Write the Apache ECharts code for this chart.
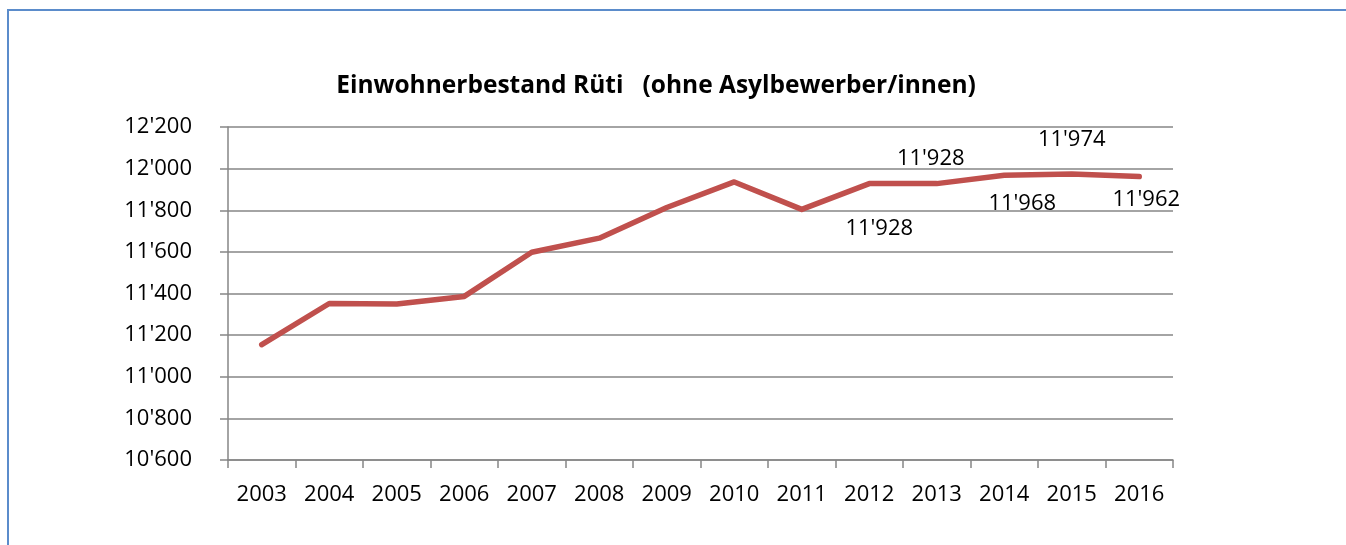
<!DOCTYPE html>
<html>
<head>
<meta charset="utf-8">
<script src="https://cdn.jsdelivr.net/npm/echarts@6/dist/echarts.min.js"></script>
<style>
  html, body { margin: 0; padding: 0; background: #fff; }
  #frame {
    position: absolute; left: 7px; top: 9px; width: 1400px; height: 600px;
    border-top: 2px solid #5b8ccb; border-left: 2px solid #5b8ccb;
  }
  #chart { position: absolute; left: 0; top: 0; width: 1346px; height: 545px; }
</style>
</head>
<body>
<div id="frame"></div>
<div id="chart"></div>
<script>
// Jahre
var years = ['2003', '2004', '2005', '2006', '2007', '2008', '2009',
  '2010', '2011', '2012', '2013', '2014', '2015', '2016']
// Einwohner ohne Asylbewerber/innen
var population = [11154, 11352, 11350, 11386, 11598, 11666, 11813,
  11936, 11804, 11928, 11928, 11968, 11974, 11962]
// Jahre mit Datenbeschriftung
var labeledYears = ['2012', '2013', '2014', '2015', '2016']

// Verschiebung der Beschriftung (px) relativ zum Punkt
var labelShift = {
  '2012': [10, 45],
  '2013': [-6, -25],
  '2014': [18, 28],
  '2015': [0, -34],
  '2016': [7, 23]
}

function fmt (v) {
  var s = String(Math.round(v))
  return s.replace(/\B(?=(\d{3})+(?!\d))/g, "'")
}

var font = '"Open Sans", "Noto Sans", sans-serif'

var seriesData = population.map(function (v, i) {
  var y = years[i]
  var item = { value: v }
  if (labeledYears.indexOf(y) >= 0) {
    item.label = {
      show: true,
      position: 'inside',
      offset: labelShift[y],
      align: 'center',
      verticalAlign: 'middle',
      formatter: function (p) { return fmt(p.value) },
      color: '#000',
      fontSize: 22,
      fontFamily: font
    }
  }
  return item
})

var chart = echarts.init(document.getElementById('chart'))
chart.setOption({
  backgroundColor: 'transparent',
  animation: false,
  title: {
    text: 'Einwohnerbestand Rüti   (ohne Asylbewerber/innen)',
    left: 651,
    top: 69,
    textAlign: 'center',
    textStyle: {
      fontFamily: font,
      fontWeight: 'bold',
      fontSize: 24.5,
      color: '#000'
    }
  },
  grid: {
    left: 228,
    right: 173,
    top: 127,
    bottom: 85,
    containLabel: false
  },
  // X-Achse
  xAxis: {
    type: 'category',
    data: years,
    boundaryGap: true,
    axisLine: { lineStyle: { color: '#868686', width: 1.5 } },
    axisTick: { show: true, length: 8, lineStyle: { color: '#868686', width: 1.5 } },
    axisLabel: { margin: 24, color: '#000', fontSize: 22, fontFamily: font }
  },
  // Y-Achse
  yAxis: {
    type: 'value',
    min: 10600,
    max: 12200,
    interval: 200,
    axisLine: { show: true, lineStyle: { color: '#868686', width: 1.5 } },
    axisTick: { show: true, length: 8, lineStyle: { color: '#868686', width: 1.5 } },
    splitLine: { lineStyle: { color: '#868686', width: 1.5 } },
    axisLabel: {
      margin: 36,
      color: '#000',
      fontSize: 22,
      fontFamily: font,
      formatter: fmt
    }
  },
  series: [{
    type: 'line',
    data: seriesData,
    symbol: 'circle',
    symbolSize: 0.1,
    showSymbol: true,
    itemStyle: { color: '#c0504d' },
    lineStyle: { color: '#c0504d', width: 5.5, cap: 'round', join: 'round' },
    label: { show: false }
  }]
})
</script>
</body>
</html>
